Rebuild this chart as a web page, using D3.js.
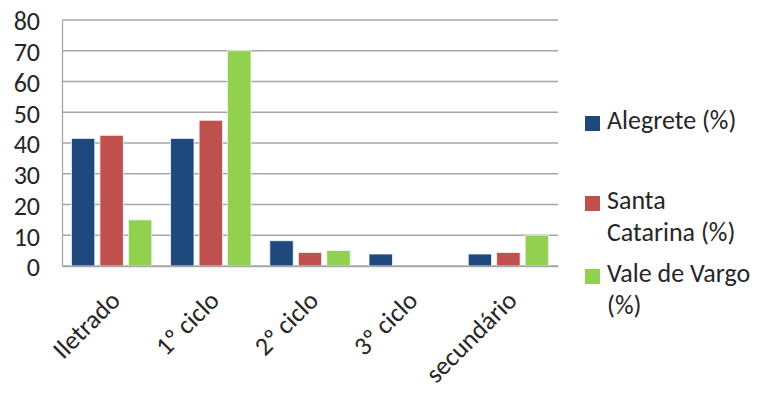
<!DOCTYPE html>
<html>
<head>
<meta charset="utf-8">
<script src="https://cdn.jsdelivr.net/npm/d3@7"></script>
<style>
  html, body { margin: 0; padding: 0; background: #fff; }
  svg text { font-family: Carlito, Calibri, "Open Sans", sans-serif; fill: #262626; }
</style>
</head>
<body>
<svg id="chart" width="761" height="400"></svg>
<script>
// Education level by parish (%)
const categories = ["Iletrado", "1º ciclo", "2º ciclo", "3º ciclo", "secundário"];
const seriesNames = ["Alegrete (%)", "Santa Catarina (%)", "Vale de Vargo (%)"];
const alegrete = [41.5, 41.5, 8.2, 3.9, 3.9];
const santaCatarina = [42.5, 47.4, 4.4, 0, 4.4];
const valeDeVargo = [15, 70, 5, 0, 10];
const yTicks = [0, 10, 20, 30, 40, 50, 60, 70, 80];
const colors = ["#1F497D", "#C0504D", "#92D050"];

const seriesValues = [alegrete, santaCatarina, valeDeVargo];
const FONT = "Carlito, Calibri, 'Open Sans', sans-serif";
const FS = 26;

const svg = d3.select("#chart");
const margin = { left: 62, right: 203, top: 20, bottom: 134 };
const width = 761 - margin.left - margin.right;
const height = 400 - margin.top - margin.bottom;

const g = svg.append("g").attr("transform", `translate(${margin.left},${margin.top})`);

const x0 = d3.scaleBand().domain(categories).range([0, width]).paddingInner(0.19).paddingOuter(0.095);
const x1 = d3.scaleBand().domain(d3.range(seriesNames.length)).range([0, x0.bandwidth()]).paddingInner(0.18);
const y = d3.scaleLinear().domain([0, 80]).range([height, 0]);

// horizontal gridlines
g.append("g")
  .selectAll("line")
  .data(yTicks)
  .join("line")
  .attr("x1", 0).attr("x2", width)
  .attr("y1", d => y(d)).attr("y2", d => y(d))
  .attr("stroke", "#a6a6a6").attr("stroke-width", 1.3);

// y axis
const yAxis = g.append("g")
  .call(d3.axisLeft(y).tickValues(yTicks).tickSize(0).tickPadding(22));
yAxis.select(".domain").attr("stroke", "#a6a6a6").attr("stroke-width", 1.3);
yAxis.selectAll("text").attr("font-size", FS).attr("dy", "0.38em")
  .style("font-family", FONT).attr("fill", "#262626");

// bars
const groups = g.append("g").selectAll("g")
  .data(categories)
  .join("g")
  .attr("transform", c => `translate(${x0(c)},0)`);

groups.selectAll("rect")
  .data((c, i) => seriesValues.map((vals, s) => ({ s, v: vals[i] })).filter(d => d.v > 0))
  .join("rect")
  .attr("x", d => x1(d.s))
  .attr("width", x1.bandwidth())
  .attr("y", d => y(d.v))
  .attr("height", d => y(0) - y(d.v))
  .attr("fill", d => colors[d.s])
  .attr("stroke", "#eef2f8").attr("stroke-width", 0.8);

// x axis baseline and rotated labels
const xAxis = g.append("g").attr("transform", `translate(0,${height})`)
  .call(d3.axisBottom(x0).tickSize(0).tickPadding(0));
xAxis.select(".domain").attr("stroke", "#a6a6a6").attr("stroke-width", 1.3);
xAxis.selectAll("text")
  .attr("font-size", FS)
  .attr("text-anchor", "end")
  .attr("dy", 0)
  .attr("transform", "translate(10,36) rotate(-45)")
  .style("font-family", FONT).attr("fill", "#262626");

// legend
const legendItems = [
  { lines: ["Alegrete (%)"], y: 129 },
  { lines: ["Santa", "Catarina (%)"], y: 209 },
  { lines: ["Vale de Vargo", "(%)"], y: 282 }
];
const legend = svg.append("g");
legendItems.forEach((item, i) => {
  legend.append("rect")
    .attr("x", 585).attr("y", item.y - 13)
    .attr("width", 15).attr("height", 15)
    .attr("fill", colors[i]);
  const t = legend.append("text").attr("x", 607).attr("y", item.y).attr("font-size", FS);
  item.lines.forEach((ln, k) => {
    t.append("tspan").attr("x", 607).attr("dy", k === 0 ? 0 : 32).text(ln);
  });
});
</script>
</body>
</html>
